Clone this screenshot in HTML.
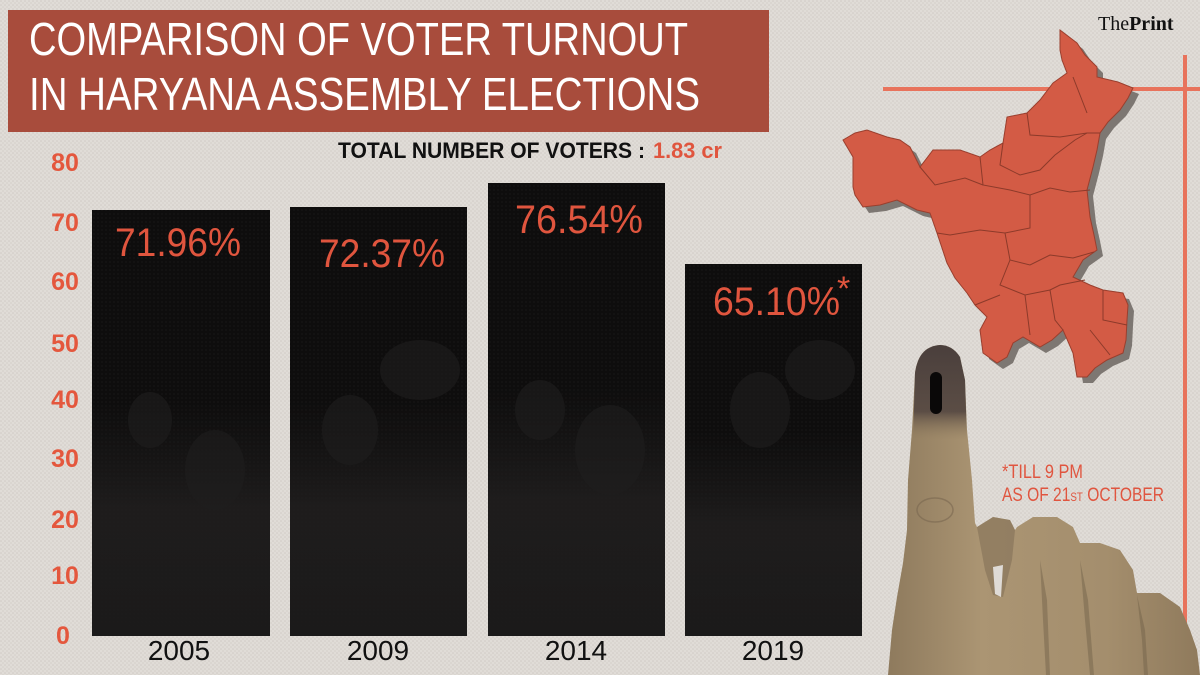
<!DOCTYPE html>
<html><head><meta charset="utf-8"><style>
html,body{margin:0;padding:0;background:#dfdbd6;}
svg{display:block;}
text{font-family:"Liberation Sans",sans-serif;}
</style></head><body>
<svg width="1200" height="675" viewBox="0 0 1200 675" xmlns="http://www.w3.org/2000/svg">
<defs>
<pattern id="dots" width="4" height="4" patternUnits="userSpaceOnUse">
<rect width="4" height="4" fill="#e0dcd7"/>
<circle cx="1" cy="1" r="0.8" fill="#cfcac4"/>
<circle cx="3" cy="3" r="0.8" fill="#d3cec8"/>
</pattern>
<pattern id="bdots" width="4" height="4" patternUnits="userSpaceOnUse">
<rect width="4" height="4" fill="#0e0d0d"/>
<circle cx="2" cy="2" r="0.9" fill="#161515"/>
</pattern>
<linearGradient id="fade" x1="0" y1="0" x2="0" y2="1">
<stop offset="0" stop-color="#1e1d1d" stop-opacity="0"/>
<stop offset="0.45" stop-color="#1e1d1d" stop-opacity="0"/>
<stop offset="0.7" stop-color="#222020" stop-opacity="0.8"/>
<stop offset="1" stop-color="#1c1b1b" stop-opacity="0.9"/>
</linearGradient>
<linearGradient id="skin" x1="0" y1="0" x2="1" y2="0">
<stop offset="0" stop-color="#8e7a5d"/>
<stop offset="0.3" stop-color="#ab9573"/>
<stop offset="0.7" stop-color="#a48e6d"/>
<stop offset="1" stop-color="#8f7a5c"/>
</linearGradient>
<linearGradient id="tip" x1="0" y1="0" x2="0" y2="1">
<stop offset="0" stop-color="#4a3f3c"/>
<stop offset="0.7" stop-color="#5b4d45"/>
<stop offset="1" stop-color="#8e7a5d" stop-opacity="0"/>
</linearGradient>
</defs>

<rect width="1200" height="675" fill="url(#dots)"/>

<!-- Title -->
<rect x="8" y="10" width="761" height="122" fill="#a84c3c"/>
<text x="29" y="55" font-size="46" fill="#ffffff" textLength="659" lengthAdjust="spacingAndGlyphs">COMPARISON OF VOTER TURNOUT</text>
<text x="29" y="110" font-size="46" fill="#ffffff" textLength="671" lengthAdjust="spacingAndGlyphs">IN HARYANA ASSEMBLY ELECTIONS</text>

<text x="338" y="158" font-size="22" font-weight="bold" fill="#111" textLength="307" lengthAdjust="spacingAndGlyphs">TOTAL NUMBER OF VOTERS :</text>
<text x="653" y="158" font-size="22" font-weight="bold" fill="#e0553e" textLength="69" lengthAdjust="spacingAndGlyphs">1.83 cr</text>

<!-- Y axis labels -->
<g font-size="25" font-weight="bold" fill="#e4573d" text-anchor="middle">
<text x="65" y="171">80</text>
<text x="65" y="231">70</text>
<text x="65" y="290">60</text>
<text x="65" y="352">50</text>
<text x="65" y="408">40</text>
<text x="65" y="467">30</text>
<text x="65" y="528">20</text>
<text x="65" y="584">10</text>
<text x="63" y="644">0</text>
</g>

<!-- Bars -->
<g>
<rect x="92" y="210" width="178" height="426" fill="url(#bdots)"/>
<rect x="92" y="210" width="178" height="426" fill="url(#fade)"/>
<rect x="290" y="207" width="177" height="429" fill="url(#bdots)"/>
<rect x="290" y="207" width="177" height="429" fill="url(#fade)"/>
<rect x="488" y="183" width="177" height="453" fill="url(#bdots)"/>
<rect x="488" y="183" width="177" height="453" fill="url(#fade)"/>
<rect x="685" y="264" width="177" height="372" fill="url(#bdots)"/>
<rect x="685" y="264" width="177" height="372" fill="url(#fade)"/>
</g>
<!-- faint photo shapes -->
<g fill="#1f1e1e" opacity="0.6">
<ellipse cx="150" cy="420" rx="22" ry="28"/>
<ellipse cx="215" cy="470" rx="30" ry="40"/>
<ellipse cx="350" cy="430" rx="28" ry="35"/>
<ellipse cx="420" cy="370" rx="40" ry="30"/>
<ellipse cx="540" cy="410" rx="25" ry="30"/>
<ellipse cx="610" cy="450" rx="35" ry="45"/>
<ellipse cx="760" cy="410" rx="30" ry="38"/>
<ellipse cx="820" cy="370" rx="35" ry="30"/>
</g>

<!-- Percent labels -->
<g font-size="40" fill="#e0553e">
<text x="115" y="256" textLength="126" lengthAdjust="spacingAndGlyphs">71.96%</text>
<text x="319" y="267" textLength="126" lengthAdjust="spacingAndGlyphs">72.37%</text>
<text x="515" y="233" textLength="128" lengthAdjust="spacingAndGlyphs">76.54%</text>
<text x="713" y="315" textLength="127" lengthAdjust="spacingAndGlyphs">65.10%</text>
<text x="837" y="300" font-size="34">*</text>
</g>

<!-- Years -->
<g font-size="28" fill="#111" text-anchor="middle">
<text x="179" y="660">2005</text>
<text x="378" y="660">2009</text>
<text x="576" y="660">2014</text>
<text x="773" y="660">2019</text>
</g>

<!-- Lines -->
<rect x="883" y="87" width="317" height="4" fill="#e8735c"/>
<rect x="1183" y="55" width="4" height="620" fill="#e8735c"/>

<!-- ThePrint logo -->
<text x="1098" y="30" style="font-family:'Liberation Serif',serif" font-size="20" fill="#111"><tspan>The</tspan><tspan font-weight="bold">Print</tspan></text>

<!-- Map -->
<path transform="translate(6,6)" fill="#7d7772" d="M1060,30 L1077,43 L1085,55 L1097,67 L1097,77 L1118,82 L1133,88 L1128,98 L1120,110 L1108,122 L1100,133 L1097,150 L1093,167 L1087,190 L1090,217 L1094,235 L1097,250 L1083,260 L1073,277 L1090,285 L1103,290 L1123,293 L1128,305 L1127,320 L1126,340 L1123,353 L1107,360 L1095,368 L1087,377 L1077,377 L1075,365 L1073,353 L1063,330 L1052,340 L1040,347 L1023,337 L1013,343 L1007,357 L997,363 L983,353 L980,330 L987,317 L975,305 L967,293 L955,278 L947,263 L937,233 L930,213 L917,210 L897,200 L880,205 L863,207 L855,195 L853,187 L853,157 L843,140 L855,133 L867,130 L887,137 L900,140 L910,147 L920,167 L933,150 L960,150 L980,157 L990,150 L1003,143 L1007,117 L1027,113 L1040,100 L1053,83 L1067,73 L1062,60 L1060,50 Z"/>
<path fill="#d35b45" stroke="#9a3f2e" stroke-width="1" d="M1060,30 L1077,43 L1085,55 L1097,67 L1097,77 L1118,82 L1133,88 L1128,98 L1120,110 L1108,122 L1100,133 L1097,150 L1093,167 L1087,190 L1090,217 L1094,235 L1097,250 L1083,260 L1073,277 L1090,285 L1103,290 L1123,293 L1128,305 L1127,320 L1126,340 L1123,353 L1107,360 L1095,368 L1087,377 L1077,377 L1075,365 L1073,353 L1063,330 L1052,340 L1040,347 L1023,337 L1013,343 L1007,357 L997,363 L983,353 L980,330 L987,317 L975,305 L967,293 L955,278 L947,263 L937,233 L930,213 L917,210 L897,200 L880,205 L863,207 L855,195 L853,187 L853,157 L843,140 L855,133 L867,130 L887,137 L900,140 L910,147 L920,167 L933,150 L960,150 L980,157 L990,150 L1003,143 L1007,117 L1027,113 L1040,100 L1053,83 L1067,73 L1062,60 L1060,50 Z"/>
<g fill="none" stroke="#8c3a2a" stroke-width="1">
<polyline points="1073,77 1080,95 1087,113"/>
<polyline points="1027,113 1030,135 1060,137 1087,133 1100,133"/>
<polyline points="1003,143 1000,165 1020,175 1040,170 1055,155 1075,140 1087,133"/>
<polyline points="980,157 983,185 1010,190 1030,195 1050,188 1070,192 1090,190"/>
<polyline points="920,167 935,185 965,178 983,185"/>
<polyline points="937,233 950,235 980,230 1005,233 1030,228 1030,195"/>
<polyline points="1005,233 1010,260 1030,265 1050,255 1073,258 1094,252"/>
<polyline points="1010,260 1000,285 1025,295 1050,290 1060,285 1085,280"/>
<polyline points="975,305 1000,295"/>
<polyline points="1025,295 1030,335"/>
<polyline points="1050,290 1055,320 1063,330"/>
<polyline points="1103,290 1103,320 1127,325"/>
<polyline points="1090,330 1110,355"/>
</g>

<!-- Hand -->
<path fill="url(#skin)" d="M940,345 C928,346 918,352 915,373 L912,430 L908,480 L907,530 L903,563 L897,597 L892,630 L888,675 L1200,675 L1197,650 L1190,630 L1180,607 L1160,593 L1140,593 L1137,593 L1133,570 L1120,550 L1100,543 L1083,543 L1080,543 L1073,527 L1057,517 L1033,517 L1017,527 L1015,530 L1010,520 L993,517 L977,527 L975,523 L972,480 L967,430 L965,380 L960,357 C955,349 948,345 940,345 Z"/>
<path fill="#7b6a52" opacity="0.5" d="M977,527 L993,517 L1010,520 L1015,530 L1012,560 L1003,597 L993,595 L985,570 Z"/>
<path fill="#dfdbd6" d="M993,567 L1003,565 L1001,597 L995,594 Z"/>
<path fill="#6f5f48" opacity="0.45" d="M1040,560 L1043,620 L1046,675 L1050,675 L1047,600 Z"/>
<path fill="#6f5f48" opacity="0.45" d="M1080,560 L1085,620 L1090,675 L1094,675 L1088,600 Z"/>
<path fill="#6f5f48" opacity="0.45" d="M1137,595 L1142,640 L1144,675 L1148,675 L1145,630 Z"/>
<path fill="url(#tip)" d="M940,345 C928,346 918,352 915,373 L913,440 L967,440 L965,380 L960,357 C955,349 948,345 940,345 Z"/>
<rect x="930" y="372" width="12" height="42" rx="6" fill="#0a0808"/>
<ellipse cx="935" cy="510" rx="18" ry="12" fill="none" stroke="#7a6850" stroke-width="1.5" opacity="0.6"/>

<!-- Footnote -->
<text x="1002" y="478" font-size="19" fill="#e0553f" textLength="81" lengthAdjust="spacingAndGlyphs">*TILL 9 PM</text>
<text x="1002" y="501" font-size="19" fill="#e0553f" textLength="162" lengthAdjust="spacingAndGlyphs">AS OF 21<tspan font-size="12">ST</tspan> OCTOBER</text>
</svg>
</body></html>
